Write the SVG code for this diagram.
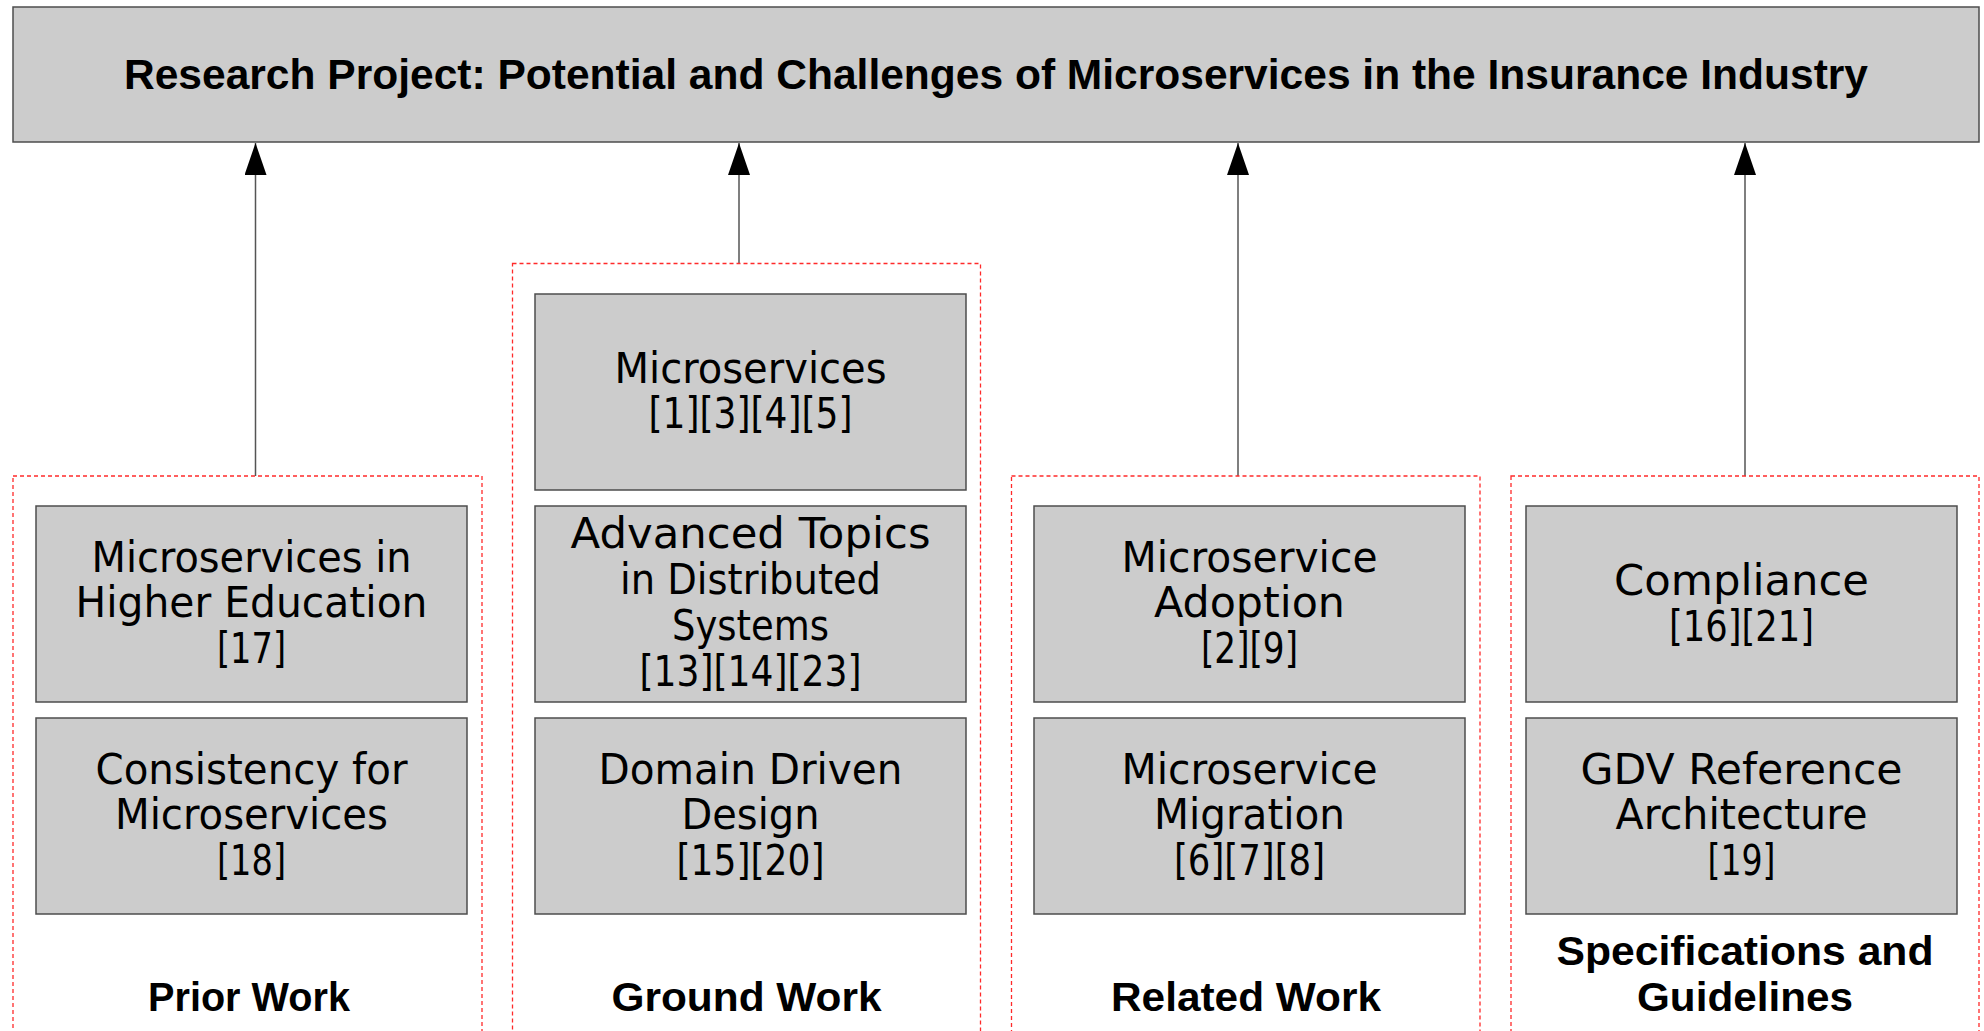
<svg xmlns="http://www.w3.org/2000/svg" width="1984" height="1031" viewBox="0 0 1984 1031">
  <style>
    .box { fill: #cccccc; stroke: #4d4d4d; stroke-width: 1.5; }
    .group { fill: none; stroke: #ff2a2a; stroke-width: 1.3; stroke-dasharray: 4 3; }
    .edge { stroke: #555555; stroke-width: 1.5; fill: none; marker-end: url(#arrow); }
    .t { font-family: "DejaVu Sans", "Liberation Sans", sans-serif; font-size: 42px; fill: #000; text-anchor: middle; }
    .b { font-family: "Liberation Sans", Arial, sans-serif; font-weight: bold; font-size: 41px; fill: #000; text-anchor: middle; }
    .title { font-family: "Liberation Sans", Arial, sans-serif; font-weight: bold; font-size: 42px; fill: #000; text-anchor: middle; }
  </style>
  <defs>
    <marker id="arrow" markerUnits="userSpaceOnUse" markerWidth="32" markerHeight="22" refX="32" refY="11" orient="auto">
      <path d="M0,0 L32,11 L0,22 Z" fill="#000"/>
    </marker>
  </defs>

  <rect width="1984" height="1031" fill="#ffffff"/>

  <!-- Main project box -->
  <g id="project">
    <rect class="box" x="13" y="7" width="1966" height="135"/>
    <text class="title" x="996" y="89" textLength="1744" lengthAdjust="spacingAndGlyphs">Research Project: Potential and Challenges of Microservices in the Insurance Industry</text>
  </g>

  <!-- Connectors from each work area to the project -->
  <g id="connectors">
    <line class="edge" x1="255.5" y1="476" x2="255.5" y2="143"/>
    <line class="edge" x1="739" y1="263.5" x2="739" y2="143"/>
    <line class="edge" x1="1238" y1="476" x2="1238" y2="143"/>
    <line class="edge" x1="1745" y1="476" x2="1745" y2="143"/>
  </g>

  <!-- Prior Work -->
  <g id="prior-work">
    <rect class="group" x="13" y="476" width="469" height="570"/>
    <text class="b" x="249" y="1011" textLength="202" lengthAdjust="spacingAndGlyphs">Prior Work</text>
  </g>
  <g id="higher-education">
    <rect class="box" x="36" y="506" width="431" height="196"/>
    <text class="t" x="251.5" y="572" textLength="320" lengthAdjust="spacingAndGlyphs">Microservices in</text>
    <text class="t" x="251.5" y="617" textLength="352" lengthAdjust="spacingAndGlyphs">Higher Education</text>
    <text class="t" x="251.5" y="663" textLength="69" lengthAdjust="spacingAndGlyphs">[17]</text>
  </g>
  <g id="consistency">
    <rect class="box" x="36" y="718" width="431" height="196"/>
    <text class="t" x="251.5" y="784" textLength="312" lengthAdjust="spacingAndGlyphs">Consistency for</text>
    <text class="t" x="251.5" y="829" textLength="273" lengthAdjust="spacingAndGlyphs">Microservices</text>
    <text class="t" x="251.5" y="875" textLength="69" lengthAdjust="spacingAndGlyphs">[18]</text>
  </g>

  <!-- Ground Work -->
  <g id="ground-work">
    <rect class="group" x="512.5" y="263.5" width="468" height="790"/>
    <text class="b" x="746.5" y="1011" textLength="270" lengthAdjust="spacingAndGlyphs">Ground Work</text>
  </g>
  <g id="microservices">
    <rect class="box" x="535" y="294" width="431" height="196"/>
    <text class="t" x="750.5" y="383" textLength="272" lengthAdjust="spacingAndGlyphs">Microservices</text>
    <text class="t" x="750.5" y="428" textLength="204" lengthAdjust="spacingAndGlyphs">[1][3][4][5]</text>
  </g>
  <g id="distributed-systems">
    <rect class="box" x="535" y="506" width="431" height="196"/>
    <text class="t" x="750.5" y="548" textLength="360" lengthAdjust="spacingAndGlyphs">Advanced Topics</text>
    <text class="t" x="750.5" y="594" textLength="261" lengthAdjust="spacingAndGlyphs">in Distributed</text>
    <text class="t" x="750.5" y="640" textLength="157" lengthAdjust="spacingAndGlyphs">Systems</text>
    <text class="t" x="750.5" y="686" textLength="222" lengthAdjust="spacingAndGlyphs">[13][14][23]</text>
  </g>
  <g id="domain-driven-design">
    <rect class="box" x="535" y="718" width="431" height="196"/>
    <text class="t" x="750.5" y="784" textLength="304" lengthAdjust="spacingAndGlyphs">Domain Driven</text>
    <text class="t" x="750.5" y="829" textLength="138" lengthAdjust="spacingAndGlyphs">Design</text>
    <text class="t" x="750.5" y="875" textLength="148" lengthAdjust="spacingAndGlyphs">[15][20]</text>
  </g>

  <!-- Related Work -->
  <g id="related-work">
    <rect class="group" x="1011.5" y="476" width="468.5" height="570"/>
    <text class="b" x="1246" y="1011" textLength="270" lengthAdjust="spacingAndGlyphs">Related Work</text>
  </g>
  <g id="adoption">
    <rect class="box" x="1034" y="506" width="431" height="196"/>
    <text class="t" x="1249.5" y="572" textLength="256" lengthAdjust="spacingAndGlyphs">Microservice</text>
    <text class="t" x="1249.5" y="617" textLength="191" lengthAdjust="spacingAndGlyphs">Adoption</text>
    <text class="t" x="1249.5" y="663" textLength="97" lengthAdjust="spacingAndGlyphs">[2][9]</text>
  </g>
  <g id="migration">
    <rect class="box" x="1034" y="718" width="431" height="196"/>
    <text class="t" x="1249.5" y="784" textLength="256" lengthAdjust="spacingAndGlyphs">Microservice</text>
    <text class="t" x="1249.5" y="829" textLength="191" lengthAdjust="spacingAndGlyphs">Migration</text>
    <text class="t" x="1249.5" y="875" textLength="151" lengthAdjust="spacingAndGlyphs">[6][7][8]</text>
  </g>

  <!-- Specifications and Guidelines -->
  <g id="specifications">
    <rect class="group" x="1511" y="476" width="468" height="570"/>
    <text class="b" x="1745" y="965" textLength="377" lengthAdjust="spacingAndGlyphs">Specifications and</text>
    <text class="b" x="1745" y="1011" textLength="216" lengthAdjust="spacingAndGlyphs">Guidelines</text>
  </g>
  <g id="compliance">
    <rect class="box" x="1526" y="506" width="431" height="196"/>
    <text class="t" x="1741.5" y="595" textLength="255" lengthAdjust="spacingAndGlyphs">Compliance</text>
    <text class="t" x="1741.5" y="641" textLength="145" lengthAdjust="spacingAndGlyphs">[16][21]</text>
  </g>
  <g id="gdv-architecture">
    <rect class="box" x="1526" y="718" width="431" height="196"/>
    <text class="t" x="1741.5" y="784" textLength="322" lengthAdjust="spacingAndGlyphs">GDV Reference</text>
    <text class="t" x="1741.5" y="829" textLength="252" lengthAdjust="spacingAndGlyphs">Architecture</text>
    <text class="t" x="1741.5" y="875" textLength="68" lengthAdjust="spacingAndGlyphs">[19]</text>
  </g>
</svg>
